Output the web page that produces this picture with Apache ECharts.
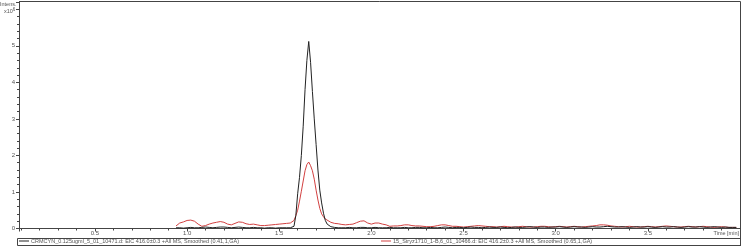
<!DOCTYPE html>
<html>
<head>
<meta charset="utf-8">
<script src="https://cdn.jsdelivr.net/npm/echarts@6/dist/echarts.min.js"></script>
<style>html,body{margin:0;padding:0;background:#fff}#c{width:741px;height:246px}</style>
</head>
<body>
<div id="c"></div>
<script>
// Retention time (min)
var times = [
  0.94,0.96,0.98,1.00,1.02,1.04,1.06,1.08,1.10,1.12,1.14,1.16,1.18,1.20,1.22,1.24,1.26,1.28,1.30,1.32,
  1.34,1.36,1.38,1.40,1.42,1.44,1.46,1.48,1.50,1.52,1.54,1.56,
  1.57,1.58,1.59,1.60,1.61,1.62,1.63,1.64,1.65,1.66,1.67,1.68,1.69,1.70,1.71,1.72,1.73,1.74,1.75,1.76,
  1.78,1.80,1.82,1.84,1.86,1.88,1.90,1.92,1.94,1.96,
  1.98,2.00,2.02,2.04,2.06,2.08,2.10,2.12,2.14,2.16,
  2.18,2.20,2.22,2.24,2.26,2.28,2.30,2.32,2.34,2.36,
  2.38,2.40,2.42,2.44,2.46,2.48,2.50,2.52,2.54,2.56,
  2.58,2.60,2.62,2.64,2.66,2.68,2.70,2.72,2.74,2.76,
  2.78,2.80,2.82,2.84,2.86,2.88,2.90,2.92,2.94,2.96,
  2.98,3.00,3.02,3.04,3.06,3.08,3.10,3.12,3.14,3.16,
  3.18,3.20,3.22,3.24,3.26,3.28,3.30,3.32,3.34,3.36,
  3.38,3.40,3.42,3.44,3.46,3.48,3.50,3.52,3.54,3.56,
  3.58,3.60,3.62,3.64,3.66,3.68,3.70,3.72,3.74,3.76,
  3.78,3.80,3.82,3.84,3.86,3.88,3.90,3.92,3.94,3.96,
  3.98
];
// Intensity x10^6 : CRMCYN standard (black)
var blackValues = [
  0.02,0.02,0.01,0.02,0.03,0.02,0.02,0.03,0.04,0.03,0.02,0.03,0.04,0.04,0.03,0.02,0.03,0.04,0.03,0.02,
  0.02,0.03,0.02,0.02,0.01,0.02,0.02,0.01,0.02,0.02,0.02,0.02,
  0.03,0.06,0.35,0.95,1.4,2.0,2.8,3.8,4.6,5.12,4.55,3.75,3.0,2.3,1.6,1.05,0.7,0.42,0.22,0.12,
  0.05,0.03,0.02,0.02,0.02,0.03,0.02,0.02,0.03,0.03,
  0.02,0.02,0.03,0.02,0.02,0.02,0.03,0.02,0.02,0.02,
  0.03,0.02,0.02,0.03,0.03,0.02,0.02,0.03,0.02,0.02,
  0.03,0.04,0.03,0.02,0.03,0.03,0.02,0.03,0.04,0.03,
  0.03,0.02,0.03,0.04,0.03,0.03,0.04,0.03,0.02,0.03,
  0.04,0.03,0.03,0.04,0.05,0.04,0.03,0.04,0.04,0.03,
  0.04,0.04,0.05,0.04,0.03,0.04,0.05,0.04,0.04,0.03,
  0.04,0.05,0.04,0.04,0.05,0.06,0.05,0.04,0.04,0.05,
  0.04,0.03,0.04,0.05,0.04,0.04,0.05,0.04,0.03,0.04,
  0.05,0.04,0.04,0.05,0.04,0.03,0.04,0.05,0.04,0.04,
  0.05,0.04,0.03,0.04,0.05,0.04,0.03,0.04,0.03,0.03,
  0.03
];
// Intensity x10^6 : sample 15_Stryz1710 (red)
var redValues = [
  0.07,0.15,0.18,0.22,0.23,0.2,0.12,0.06,0.08,0.12,0.15,0.17,0.19,0.17,0.12,0.1,0.14,0.18,0.17,0.13,
  0.11,0.12,0.1,0.08,0.08,0.09,0.1,0.11,0.12,0.13,0.14,0.15,
  0.15,0.22,0.35,0.5,0.75,1.02,1.3,1.58,1.75,1.82,1.72,1.58,1.35,1.05,0.78,0.55,0.4,0.32,0.26,0.22,
  0.17,0.14,0.13,0.11,0.1,0.11,0.12,0.16,0.2,0.21,
  0.15,0.12,0.15,0.15,0.12,0.1,0.06,0.07,0.07,0.08,
  0.1,0.1,0.08,0.07,0.07,0.06,0.05,0.05,0.06,0.08,
  0.1,0.1,0.08,0.06,0.06,0.05,0.04,0.05,0.06,0.07,
  0.08,0.07,0.06,0.05,0.05,0.04,0.05,0.06,0.05,0.04,
  0.04,0.05,0.06,0.05,0.04,0.04,0.05,0.06,0.06,0.05,
  0.04,0.05,0.06,0.05,0.04,0.05,0.06,0.05,0.04,0.05,
  0.06,0.07,0.08,0.1,0.1,0.09,0.07,0.06,0.05,0.04,
  0.05,0.06,0.05,0.04,0.04,0.05,0.06,0.05,0.04,0.05,
  0.06,0.07,0.06,0.05,0.04,0.04,0.05,0.06,0.05,0.04,
  0.05,0.06,0.05,0.04,0.03,0.04,0.05,0.04,0.03,0.03,
  0.03
];
var seriesNames = [
  'CRMCYN_0.125ugml_5_01_10471.d: EIC 416.0±0.3 +All MS, Smoothed (0.41,1,GA)',
  '15_Stryz1710_1-B,6_01_10466.d: EIC 416.2±0.3 +All MS, Smoothed (0.65,1,GA)'
];
var yLabelTop = 'Intens.';
var xAxisTitle = 'Time [min]';

function pairs(vals){ return times.map(function(t,i){ return [t, vals[i]]; }); }

var FONT = '"Liberation Sans", Arial, sans-serif';
var TXT = '#555';
var AX = '#444';

var chart = echarts.init(document.getElementById('c'), null, {renderer:'canvas'});
chart.setOption({
  animation: false,
  backgroundColor: '#fff',
  grid: { left: 19, right: 1, top: 2, bottom: 17.5, containLabel: false },
  xAxis: {
    type: 'value', min: 0.088, max: 4.0, splitNumber: 8,
    axisLine: { lineStyle: { color: AX, width: 1 } },
    axisTick: { show: true, length: 3, lineStyle: { color: AX } },
    minorTick: { show: true, splitNumber: 5, length: 2, lineStyle: { color: AX } },
    splitLine: { show: false },
    axisLabel: { fontSize: 6, color: TXT, fontFamily: FONT, margin: 2, showMinLabel: false, showMaxLabel: false,
      formatter: function(v){ return v.toFixed(1); } }
  },
  yAxis: {
    type: 'value', min: 0, max: 6.2, interval: 1,
    axisLine: { show: true, lineStyle: { color: AX, width: 1 } },
    axisTick: { show: true, length: 3, lineStyle: { color: AX } },
    minorTick: { show: true, splitNumber: 5, length: 2, lineStyle: { color: AX } },
    splitLine: { show: false },
    axisLabel: { fontSize: 6, color: TXT, fontFamily: FONT, margin: 4, showMaxLabel: false,
      formatter: function(v){ return v > 5 ? '' : String(v); } }
  },
  legend: [
    { data: [seriesNames[0]], left: 19, top: 238, itemWidth: 10, itemHeight: 1, icon: 'rect', itemGap: 2,
      padding: 0, textStyle: { fontSize: 5.5, color: TXT, fontFamily: FONT, padding: [0,0,0,-3] }, selectedMode: false },
    { data: [seriesNames[1]], left: 381, top: 238, itemWidth: 10, itemHeight: 1, icon: 'rect', itemGap: 2,
      padding: 0, textStyle: { fontSize: 5.5, color: TXT, fontFamily: FONT, padding: [0,0,0,-3] }, selectedMode: false }
  ],
  series: [
    { name: seriesNames[0], type: 'line', data: pairs(blackValues), showSymbol: false, symbol: 'none',
      lineStyle: { color: '#222', width: 1 }, itemStyle: { color: '#222' }, z: 3 },
    { name: seriesNames[1], type: 'line', data: pairs(redValues), showSymbol: false, symbol: 'none',
      lineStyle: { color: '#d24040', width: 1 }, itemStyle: { color: '#d24040' }, z: 2 }
  ],
  graphic: [
    { type: 'polyline', shape: { points: [[19,1.5],[740.5,1.5],[740.5,246]] }, style: { stroke: AX, lineWidth: 1, fill: null }, silent: true },
    { type: 'rect', shape: { x: 17.5, y: 238.5, width: 723, height: 7 }, style: { stroke: AX, lineWidth: 1, fill: null }, silent: true },
    { type: 'text', left: 0, top: 1, style: { text: yLabelTop, fontSize: 5.5, fill: TXT, fontFamily: FONT } },
    { type: 'text', left: 4, top: 7, style: { rich: { a: { fontSize: 5.5, fill: TXT, fontFamily: FONT }, s: { fontSize: 4.5, fill: TXT, fontFamily: FONT, verticalAlign: 'top', padding: [0,0,3,0] } },
        text: '{a|x10}{s|6}' } },
    { type: 'text', right: 2, top: 230, style: { text: xAxisTitle, fontSize: 5.5, fill: TXT, fontFamily: FONT } }
  ]
});
</script>
</body>
</html>
